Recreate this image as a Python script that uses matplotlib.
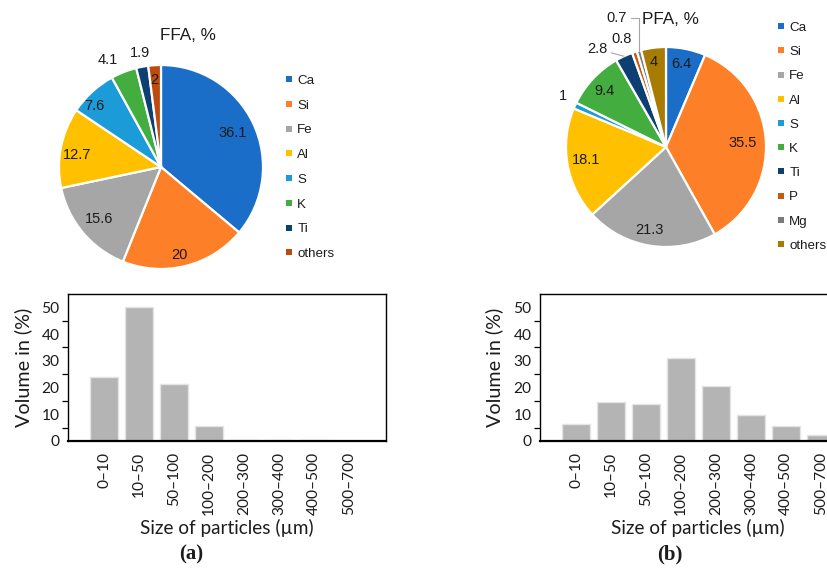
import matplotlib
matplotlib.use("Agg")
import matplotlib.pyplot as plt
from matplotlib.lines import Line2D
import numpy as np

# ---- composition data (wt. %) ----
ffa_elements = ["Ca", "Si", "Fe", "Al", "S", "K", "Ti", "others"]
ffa_values = [36.1, 20, 15.6, 12.7, 7.6, 4.1, 1.9, 2]
ffa_labels = ["36.1", "20", "15.6", "12.7", "7.6", "4.1", "1.9", "2"]

pfa_elements = ["Ca", "Si", "Fe", "Al", "S", "K", "Ti", "P", "Mg", "others"]
pfa_values = [6.4, 35.5, 21.3, 18.1, 1, 9.4, 2.8, 0.8, 0.7, 4]
pfa_labels = ["6.4", "35.5", "21.3", "18.1", "1", "9.4", "2.8", "0.8", "0.7", "4"]

# ---- particle size distribution (volume %) ----
size_bins = ["0\u201310", "10\u201350", "50\u2013100", "100\u2013200",
             "200\u2013300", "300\u2013400", "400\u2013500", "500\u2013700"]
ffa_volume = [24, 50, 21.5, 5.6, 0.3, 0.2, 0.2, 0.1]
pfa_volume = [6.2, 14.5, 13.8, 31, 20.4, 9.8, 5.7, 2.1]

# ---- styling ----
ffa_colors = ["#1a6ec8", "#fd7f28", "#a6a6a6", "#ffc000", "#1b9bd8",
              "#43ad3f", "#0e3f72", "#bd4a0e"]
pfa_colors = ["#1a6ec8", "#fd7f28", "#a6a6a6", "#ffc000", "#1b9bd8",
              "#43ad3f", "#0e3f72", "#c55a11", "#7a7a7a", "#a87b03"]
pie_font = "Liberation Sans"
bar_font = "Lato"
text_col = "#1c1c1c"
pie_num_size = 10.5
legend_size = 9.6
title_size = 12.3
bar_tick_size = 11.2
bar_label_size = 13.6
ylabel_size = 14.2

W, H = 827, 576
fig = plt.figure(figsize=(W / 100, H / 100), dpi=100)


def px_axes(x0, y0, x1, y1):
    """Axes from pixel box (top-left origin)."""
    return fig.add_axes([x0 / W, 1 - y1 / H, (x1 - x0) / W, (y1 - y0) / H])


def draw_pie(ax, values, colors, labels, dists, offsets):
    wedges, _ = ax.pie(values, colors=colors, startangle=90, counterclock=False,
                       wedgeprops=dict(edgecolor="white", linewidth=1.6))
    ax.set_xlim(-1, 1)
    ax.set_ylim(-1, 1)
    ax.set_aspect("equal")
    for w, lab, d, off in zip(wedges, labels, dists, offsets):
        if d is None:
            continue
        ang = np.deg2rad((w.theta1 + w.theta2) / 2 + off)
        ax.text(d * np.cos(ang), d * np.sin(ang), lab, ha="center", va="center",
                fontsize=pie_num_size, family=pie_font, color=text_col,
                clip_on=False)
    return wedges


def pie_legend(ax, wedges, names, anchor, spacing):
    handles = [Line2D([], [], marker="s", linestyle="none", markersize=4,
                      markerfacecolor=w.get_facecolor(), markeredgewidth=0)
               for w in wedges]
    leg = ax.legend(handles, names, loc="upper left", bbox_to_anchor=anchor,
                    bbox_transform=fig.transFigure, frameon=False,
                    borderpad=0, borderaxespad=0, handlelength=0.5,
                    handletextpad=0.35, labelspacing=spacing,
                    prop=dict(family=pie_font, size=legend_size))
    for t in leg.get_texts():
        t.set_color(text_col)


# ---- FFA pie ----
ax1 = px_axes(59, 65, 263, 269)
w1 = draw_pie(ax1, ffa_values, ffa_colors, ffa_labels,
              dists=[0.78, 0.88, 0.79, 0.83, 0.89, 1.17, 1.14, 0.86],
              offsets=[0, -2, 0, 3, 5, 5, 0, 1])
fig.text(188 / W, 1 - 35 / H, "FFA, %", ha="center", va="center",
         fontsize=title_size, family=pie_font, color=text_col)
pie_legend(ax1, w1, ffa_elements, (286 / W, 1 - 74.6 / H), 0.93)

# ---- PFA pie ----
ax2 = px_axes(566, 47, 766, 247)
w2 = draw_pie(ax2, pfa_values, pfa_colors, pfa_labels,
              dists=[0.84, 0.77, 0.85, 0.81, 1.15, 0.83, None, None, None, 0.86],
              offsets=[1, 0, -2, -1, -2, 1, 0, 0, 0, 1])
# small slices labelled with leader lines
for idx, (tx, ty), style in [(6, (-0.69, 0.98), "arc3"),
                              (7, (-0.44, 1.08), None),
                              (8, (-0.49, 1.29), "angle,angleA=0,angleB=90,rad=0")]:
    w = w2[idx]
    ang = np.deg2rad((w.theta1 + w.theta2) / 2)
    tip = (np.cos(ang), np.sin(ang))
    props = None
    if style is not None:
        props = dict(arrowstyle="-", color="#a6a6a6", lw=0.8,
                     connectionstyle=style, shrinkA=1, shrinkB=0)
    ax2.annotate(pfa_labels[idx], xy=tip, xytext=(tx, ty), ha="center",
                 va="center", fontsize=pie_num_size, family=pie_font,
                 color=text_col, arrowprops=props, annotation_clip=False)
fig.text(670 / W, 1 - 20 / H, "PFA, %", ha="center", va="center",
         fontsize=title_size, family=pie_font, color=text_col)
pie_legend(ax2, w2, pfa_elements, (778 / W, 1 - 21.6 / H), 0.89)


# ---- size distribution bars ----
def draw_bars(ax, volumes, ylab_x):
    x = np.arange(len(size_bins))
    ax.bar(x, volumes, width=0.8, color="#b4b4b4", edgecolor="#e4e4e4",
           linewidth=1.0)
    ax.set_xlim(-1.03, 8.06)
    ax.set_ylim(0, 55)
    ax.set_xticks(x)
    ax.set_xticklabels(size_bins, rotation=90, family=bar_font,
                       fontsize=bar_tick_size, color=text_col)
    ax.tick_params(axis="x", length=0, pad=8)
    ax.set_yticks(np.arange(0, 51, 10))
    ax.set_yticklabels([str(v) for v in range(0, 51, 10)], family=bar_font,
                       fontsize=bar_tick_size, color=text_col)
    ax.set_yticks(np.arange(5, 50, 10), minor=True)
    ax.tick_params(axis="y", which="major", length=0, pad=6)
    ax.tick_params(axis="y", which="minor", length=4, width=0.9,
                   direction="out", color="#000000")
    for s in ax.spines.values():
        s.set_linewidth(1.0)
        s.set_color("black")
    ax.spines["bottom"].set_linewidth(1.6)
    ax.set_ylabel("Volume in (%)", family=bar_font, fontsize=ylabel_size,
                  color=text_col, va="center")
    ax.yaxis.set_label_coords(ylab_x, 0.5)


ax3 = px_axes(68, 294, 386, 441)
draw_bars(ax3, ffa_volume, (23 - 68) / 318)
fig.text(227 / W, 1 - 528 / H, "Size of particles (\u00b5m)", ha="center",
         va="center", family=bar_font, fontsize=bar_label_size, color=text_col)
fig.text(191 / W, 1 - 554 / H, "(a)", ha="center", va="center",
         family="Liberation Serif", fontsize=15, fontweight="bold",
         color=text_col)

ax4 = px_axes(540, 294, 858, 441)
draw_bars(ax4, pfa_volume, (494 - 540) / 318)
fig.text(698 / W, 1 - 528 / H, "Size of particles (\u00b5m)", ha="center",
         va="center", family=bar_font, fontsize=bar_label_size, color=text_col)
fig.text(670 / W, 1 - 554 / H, "(b)", ha="center", va="center",
         family="Liberation Serif", fontsize=15, fontweight="bold",
         color=text_col)

fig.savefig("out.png", dpi=100, facecolor="white")
